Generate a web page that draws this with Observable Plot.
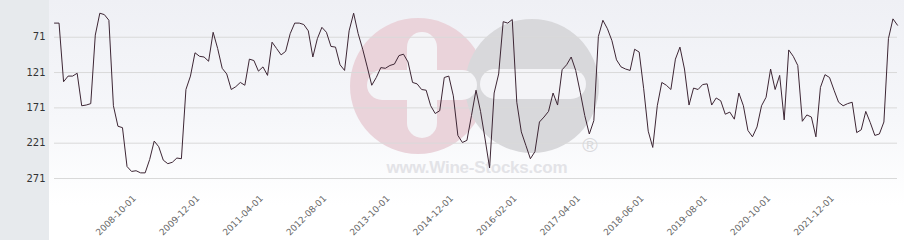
<!DOCTYPE html>
<html>
<head>
<meta charset="utf-8">
<script src="https://cdn.jsdelivr.net/npm/d3@7"></script>
<script src="https://cdn.jsdelivr.net/npm/@observablehq/plot@0.6"></script>
<style>
  html, body { margin: 0; padding: 0; background: #fff; }
  #wrap { position: relative; width: 904px; height: 240px; overflow: hidden; }
  #leftpanel { position: absolute; left: 0; top: 0; width: 49px; height: 240px; background: #e7eaed; }
  #plotbg { position: absolute; left: 49px; top: 0; width: 855px; height: 240px;
            background: linear-gradient(to bottom, #eff0f5 0px, #f6f7fa 120px, #ffffff 205px, #ffffff 240px); }
  #wm { position: absolute; left: 0; top: 0; }
  #chart { position: absolute; left: 0; top: 0; }
  #chart svg { background: transparent; }
</style>
</head>
<body>
<div id="wrap">
  <div id="leftpanel"></div>
  <div id="plotbg"></div>
  <svg id="wm" width="904" height="240">
    <circle cx="418" cy="86" r="68" fill="#eAd3da"></circle>
    <circle cx="532" cy="86" r="67" fill="#d8d8db"></circle>
    <rect x="407" y="32" width="30" height="106" rx="15" fill="#f4f4f7"></rect>
    <rect x="367" y="70" width="110" height="30" rx="15" fill="#f4f4f7"></rect>
    <rect x="480" y="69" width="106" height="30" rx="15" fill="#f4f4f7"></rect>
    <text x="477" y="173" text-anchor="middle" font-family="Liberation Sans, Arial, sans-serif" font-weight="bold" font-size="17" textLength="181" fill="#e3e3e7">www.Wine-Stocks.com</text>
    <text x="590" y="152" text-anchor="middle" font-family="Liberation Sans, Arial, sans-serif" font-size="21" fill="#d9d9dc">®</text>
  </svg>
  <div id="chart"></div>
</div>
<script>
// Monthly rank values (lower is better)
const values = [
  51, 51, 134, 126, 126, 122, 168, 167, 165, 68,
  37, 39, 47, 168, 197, 199, 254, 261, 260, 263,
  263, 244, 218, 226, 245, 250, 248, 242, 243, 145,
  126, 93, 98, 99, 105, 64, 87, 115, 123, 145,
  141, 135, 139, 102, 104, 119, 113, 125, 78, 87,
  96, 91, 66, 51, 51, 53, 62, 99, 73, 57,
  64, 84, 85, 110, 118, 62, 37, 66, 88, 113,
  139, 128, 114, 115, 111, 109, 97, 95, 106, 135,
  137, 145, 146, 168, 179, 175, 128, 126, 154, 210,
  220, 217, 182, 146, 176, 215, 256, 150, 123, 49,
  51, 46, 163, 205, 224, 243, 233, 191, 184, 176,
  150, 167, 117, 110, 99, 118, 149, 182, 208, 189,
  70, 47, 59, 76, 103, 113, 116, 118, 88, 92,
  144, 204, 227, 168, 135, 139, 145, 102, 85, 116,
  167, 143, 145, 138, 137, 167, 157, 161, 180, 177,
  187, 150, 168, 203, 212, 198, 168, 156, 116, 145,
  125, 188, 89, 98, 111, 190, 181, 184, 212, 142,
  124, 128, 146, 163, 168, 165, 163, 206, 202, 176,
  192, 210, 208, 191, 73, 45, 54
];

// Category tick labels (one every 14 points, first at point 17)
const tickLabels = [
  "2008-10-01", "2009-12-01", "2011-04-01", "2012-08-01", "2013-10-01",
  "2014-12-01", "2016-02-01", "2017-04-01", "2018-06-01", "2019-08-01",
  "2020-10-01", "2021-12-01"
];
const firstTick = 17;
const tickStep = 14;

const yTicks = [71, 121, 171, 221, 271];

const data = values.map((v, i) => ({i, v}));
const tickIdx = tickLabels.map((_, k) => firstTick + k * tickStep);
const labelOf = new Map(tickIdx.map((t, k) => [t, tickLabels[k]]));

const chart = Plot.plot({
  width: 904,
  height: 240,
  marginLeft: 54,
  marginRight: 7,
  marginTop: 0.7,
  marginBottom: 41.5,
  style: {fontFamily: "DejaVu Sans, sans-serif", background: "transparent", overflow: "visible"},
  x: {domain: [0, values.length - 1]},
  y: {domain: [20, 300], range: [0.7, 198.5]},
  marks: [
    Plot.gridY(yTicks, {stroke: "#d9d9d9", strokeOpacity: 1, strokeWidth: 1}),
    Plot.axisY(yTicks, {anchor: "left", tickSize: 0, tickPadding: 9, fontSize: 10, fill: "#333", label: null}),
    Plot.axisX(tickIdx, {
      anchor: "bottom", tickSize: 0, tickPadding: 0, tickRotate: -45,
      tickFormat: d => labelOf.get(d), fontSize: 9, fill: "#666", label: null,
      dx: 3, dy: -2
    }),
    Plot.line(data, {x: "i", y: "v", stroke: "#3d2634", strokeWidth: 1, curve: "linear"})
  ]
});
document.getElementById("chart").appendChild(chart);
</script>
</body>
</html>
